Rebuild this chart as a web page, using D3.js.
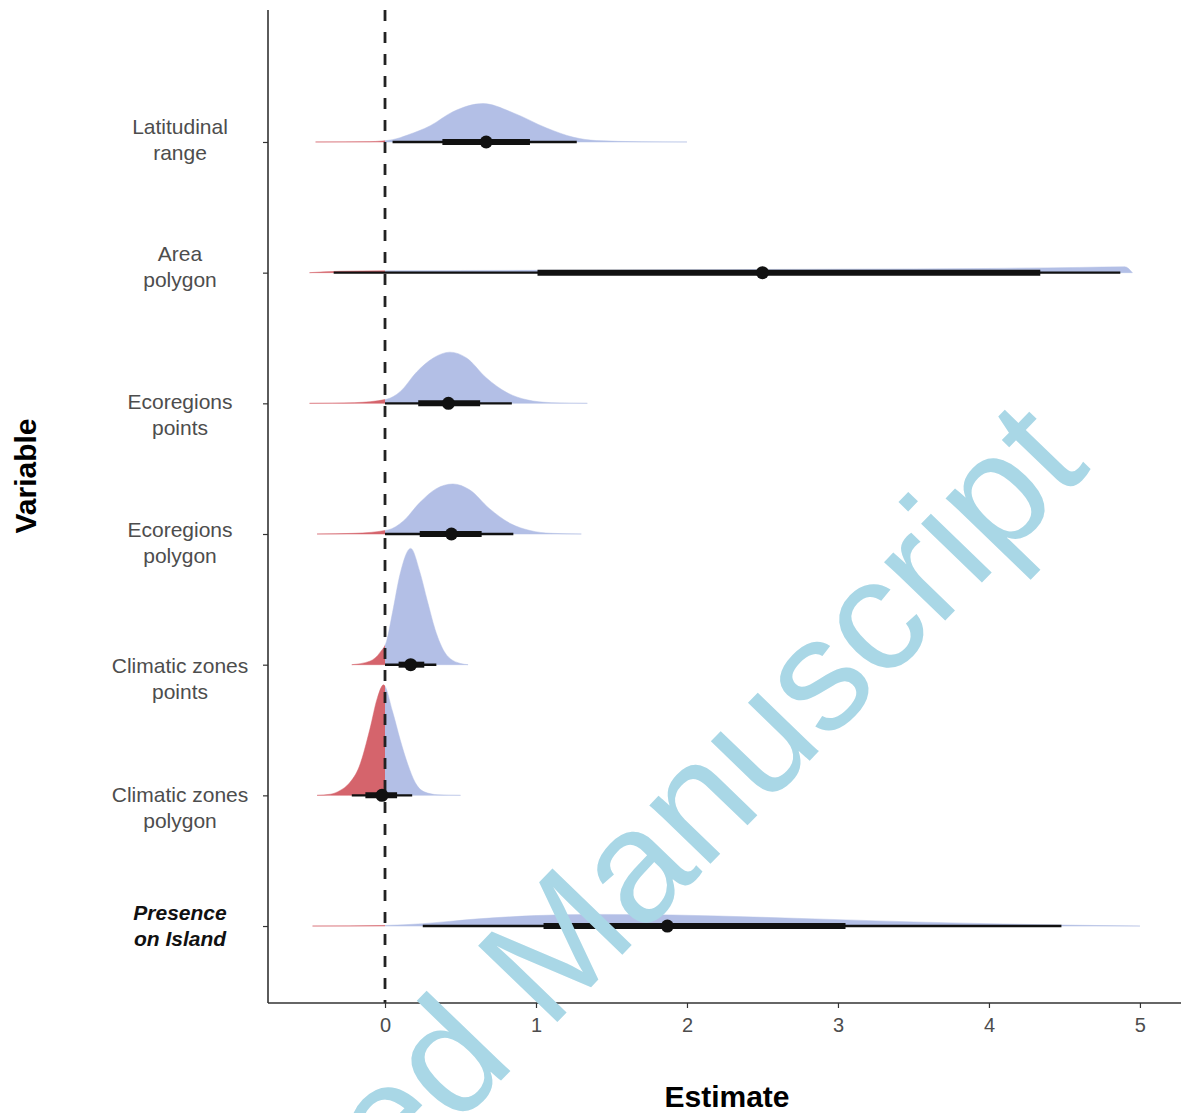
<!DOCTYPE html>
<html lang="en">
<head>
<meta charset="utf-8" />
<title>Posterior estimates by variable</title>
<style>
  body { margin:0; background:#fff; font-family:"Liberation Sans", Arial, sans-serif; }
  svg  { display:block; }
  .tickText  { font-size:20px; fill:#4d4d4d; }
  .rowLabel  { font-size:21px; fill:#4d4d4d; }
  .rowLabel.strong { font-weight:bold; font-style:italic; fill:#111; }
  .axisTitle { font-size:30px; font-weight:bold; fill:#000; }
  .watermark { font-size:160px; fill:#a9d7e6; }
</style>
</head>
<body>
<svg id="chart"></svg>

<script src="https://cdn.jsdelivr.net/npm/d3@7"></script>
<script>
/* ---------- DATA ---------- */
// top to bottom
const variables = [
  ["Latitudinal", "range"],
  ["Area", "polygon"],
  ["Ecoregions", "points"],
  ["Ecoregions", "polygon"],
  ["Climatic zones", "points"],
  ["Climatic zones", "polygon"],
  ["Presence", "on Island"]
];
const medians = [0.67, 2.50, 0.42, 0.44, 0.17, -0.02, 1.87];
const q66lo   = [0.38, 1.01, 0.22, 0.23, 0.09, -0.13, 1.05];
const q66hi   = [0.96, 4.34, 0.63, 0.64, 0.26,  0.08, 3.05];
const q95lo   = [0.05, -0.34, 0.00, 0.00, 0.00, -0.22, 0.25];
const q95hi   = [1.27, 4.87, 0.84, 0.85, 0.34,  0.18, 4.48];

// slab outlines: [estimate, relative density] (1 = tallest slab)
const densities = [
  [[-0.46,0],[-0.1,0.003],[0.05,0.02],[0.15,0.06],[0.3,0.14],[0.45,0.26],[0.65,0.33],[0.85,0.25],[1.07,0.12],[1.25,0.04],[1.4,0.012],[1.7,0.002],[2.0,0]],
  [[-0.5,0],[-0.3,0.012],[0,0.016],[1,0.02],[2,0.025],[3,0.03],[4,0.036],[4.6,0.045],[4.9,0.05],[4.95,0]],
  [[-0.5,0],[-0.2,0.006],[0.01,0.035],[0.1,0.10],[0.21,0.27],[0.32,0.39],[0.43,0.44],[0.54,0.39],[0.67,0.22],[0.81,0.09],[0.94,0.03],[1.1,0.006],[1.34,0]],
  [[-0.45,0],[-0.2,0.006],[0.02,0.035],[0.12,0.11],[0.23,0.27],[0.34,0.39],[0.45,0.43],[0.56,0.38],[0.69,0.22],[0.83,0.09],[0.96,0.03],[1.1,0.006],[1.3,0]],
  [[-0.22,0],[-0.1,0.03],[-0.03,0.11],[0.01,0.2],[0.05,0.45],[0.10,0.78],[0.17,1.0],[0.23,0.8],[0.28,0.55],[0.34,0.27],[0.41,0.08],[0.5,0.01],[0.55,0]],
  [[-0.45,0],[-0.36,0.01],[-0.3,0.04],[-0.24,0.1],[-0.17,0.25],[-0.1,0.57],[-0.05,0.84],[-0.01,0.95],[0.05,0.72],[0.1,0.48],[0.15,0.27],[0.2,0.11],[0.26,0.03],[0.35,0.005],[0.5,0]],
  [[-0.48,0],[0,0.005],[0.25,0.02],[0.6,0.06],[1.0,0.09],[1.4,0.1],[1.9,0.095],[2.5,0.075],[3.0,0.055],[3.5,0.035],[4.0,0.02],[4.5,0.008],[5.0,0]]
];
const xTicks = [0, 1, 2, 3, 4, 5];

/* ---------- LAYOUT ---------- */
const W = 1181, H = 1113;
const M = { left:268, right:1181, top:10, bottom:1003 };
// the row labels in the figure sit a little off their ticks
const labelNudge = [-3, -7, 11, 8, 13, 12, -1];

const blue = "#b3bfe6", red = "#d5646c", ink = "#111";

const svg = d3.select("#chart").attr("width", W).attr("height", H);

const x = d3.scaleLinear().domain([-0.775, 5.272]).range([M.left, M.right]);
// row index 1 = bottom (Presence on Island), 7 = top
const y = d3.scaleLinear().domain([0.411, 8.01]).range([M.bottom, M.top]);
const h = d3.scaleLinear().domain([0, 1]).range([0, 0.89 * (y(1) - y(2))]);
const rowPos = i => variables.length - i;

/* ---------- CLIPS (negative side red) ---------- */
const defs = svg.append("defs");
defs.append("clipPath").attr("id", "neg")
  .append("rect").attr("x", 0).attr("y", 0).attr("width", x(0)).attr("height", H);
defs.append("clipPath").attr("id", "pos")
  .append("rect").attr("x", x(0)).attr("y", 0).attr("width", W - x(0)).attr("height", H);

/* ---------- SLABS ---------- */
const slabs = svg.append("g");
densities.forEach((pts, i) => {
  const base = y(rowPos(i));
  const area = d3.area()
    .curve(d3.curveMonotoneX)
    .x(d => x(d[0]))
    .y0(base)
    .y1(d => base - h(d[1]));
  [["neg", red], ["pos", blue]].forEach(([clip, col]) => {
    slabs.append("path")
      .attr("d", area(pts))
      .attr("clip-path", `url(#${clip})`)
      .attr("fill", col)
      .attr("stroke", col)
      .attr("stroke-opacity", 0.5)
      .attr("stroke-width", 1);
  });
});

/* ---------- ZERO LINE ---------- */
svg.append("line")
  .attr("x1", x(0)).attr("x2", x(0))
  .attr("y1", M.top).attr("y2", M.bottom)
  .attr("stroke", "#222").attr("stroke-width", 2.8)
  .attr("stroke-dasharray", "11,11");

/* ---------- INTERVALS ---------- */
const iv = svg.append("g");
variables.forEach((v, i) => {
  const yy = y(rowPos(i));
  iv.append("line").attr("x1", x(q95lo[i])).attr("x2", x(q95hi[i]))
    .attr("y1", yy).attr("y2", yy).attr("stroke", ink).attr("stroke-width", 2.4);
  iv.append("line").attr("x1", x(q66lo[i])).attr("x2", x(q66hi[i]))
    .attr("y1", yy).attr("y2", yy).attr("stroke", ink).attr("stroke-width", 6);
  iv.append("circle").attr("cx", x(medians[i])).attr("cy", yy).attr("r", 6.5).attr("fill", ink);
});

/* ---------- AXES ---------- */
const xAxis = svg.append("g").attr("transform", `translate(0,${M.bottom})`)
  .call(d3.axisBottom(x).tickValues(xTicks).tickSize(5).tickPadding(10).tickFormat(d3.format("d")));
const yAxis = svg.append("g").attr("transform", `translate(${M.left},0)`)
  .call(d3.axisLeft(y).tickValues(variables.map((v, i) => rowPos(i))).tickSize(5).tickFormat(""));
[xAxis, yAxis].forEach(g => {
  g.select(".domain").attr("stroke", "#333").attr("stroke-width", 1.6)
    .attr("d", g === xAxis ? `M${M.left},0H${M.right}` : `M0,${M.top}V${M.bottom}`);
  g.selectAll(".tick line").attr("stroke", "#333").attr("stroke-width", 1.2);
});
xAxis.attr("font-family", null).attr("font-size", null);
xAxis.selectAll(".tick text").attr("class", "tickText").attr("fill", null);

/* ---------- ROW LABELS ---------- */
variables.forEach((lines, i) => {
  const t = svg.append("text")
    .attr("class", i === variables.length - 1 ? "rowLabel strong" : "rowLabel")
    .attr("text-anchor", "middle")
    .attr("x", 180)
    .attr("y", y(rowPos(i)) + labelNudge[i] - 13)
    .attr("dominant-baseline", "central");
  lines.forEach((s, k) => t.append("tspan").attr("x", 180).attr("dy", k ? 26 : 0).text(s));
});

/* ---------- TITLES ---------- */
svg.append("text").attr("class", "axisTitle").attr("text-anchor", "middle")
  .attr("x", 727).attr("y", 1107).text("Estimate");
svg.append("text").attr("class", "axisTitle").attr("text-anchor", "middle")
  .attr("transform", "translate(36,476) rotate(-90)").text("Variable");

/* ---------- WATERMARK ---------- */
svg.append("text").attr("class", "watermark").attr("text-anchor", "middle")
  .attr("transform", "translate(573,1006) rotate(-46)")
  .text("Accepted Manuscript");
</script>
</body>
</html>
